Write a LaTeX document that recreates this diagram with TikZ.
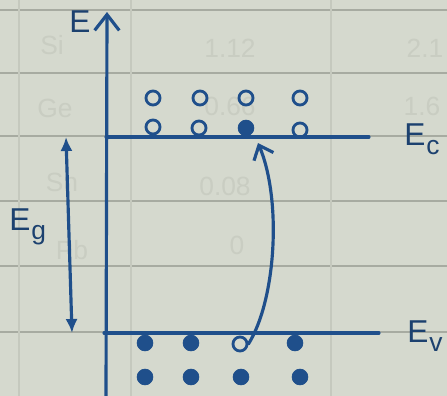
\documentclass[tikz,border=0pt]{standalone}
\usepackage{fontspec}
\setmainfont{Liberation Sans}
\usetikzlibrary{arrows.meta}

\definecolor{paper}{HTML}{D5D9CE}
\definecolor{ruleline}{HTML}{A7ABA1}
\definecolor{ghost}{HTML}{C9CDC2}
\definecolor{ink}{HTML}{1F4F8B}
\definecolor{darkink}{HTML}{1C416F}

\newcommand{\levellabel}[2]{#1\kern0.5pt\raisebox{-0.55ex}{\fontsize{15}{16}\selectfont #2}}

\tikzset{
  inkline/.style={ink, line width=1.8pt, line cap=round},
  handtext/.style={darkink, font=\fontsize{18}{21}\selectfont, inner sep=0pt},
  ghosttext/.style={ghost, font=\fontsize{15}{18}\selectfont, inner sep=0pt},
  electron/.style={circle, fill=ink, draw=ink, minimum size=9pt, inner sep=0pt},
  hole/.style={circle, draw=ink, line width=1.6pt, minimum size=8pt, inner sep=0pt},
}

\begin{document}
\begin{tikzpicture}[x=0.02cm, y=-0.02cm]
  % paper
  \fill[paper] (0,0) rectangle (447,396);
  \useasboundingbox (0,0) rectangle (447,396);
  \foreach \y in {10,73,136,201,266,332}
    \draw[ruleline, line width=0.8pt] (0,\y) -- (447,\y);
  \foreach \x in {19,131,331}
    \draw[ruleline!35!paper, line width=0.8pt] (\x,0) -- (\x,396);

  % table showing through the page
  \node[ghosttext] (g1) at (52,45) {Si};
  \node[ghosttext] (g2) at (230,48) {1.12};
  \node[ghosttext] (g3) at (425,48) {2.1};
  \node[ghosttext] (g4) at (55,108) {Ge};
  \node[ghosttext] (g5) at (230,106) {0.66};
  \node[ghosttext] (g6) at (422,106) {1.6};
  \node[ghosttext] (g7) at (62,182) {Sn};
  \node[ghosttext] (g8) at (225,186) {0.08};
  \node[ghosttext] (g9) at (72,250) {Pb};
  \node[ghosttext] (g10) at (237,245) {0};

  % energy axis
  \coordinate (axisbot) at (106,396);
  \coordinate (axistop) at (107,12);
  \draw[inkline, -{Straight Barb[length=9pt, width=14pt, line width=1.8pt]}] (axisbot) -- (axistop);
  \node[handtext] (elabel) at (80,22) {E};

  % band edges
  \coordinate (cbleft) at (106,137);
  \coordinate (cbright) at (369,137);
  \coordinate (vbleft) at (104,333);
  \coordinate (vbright) at (379,333);
  \draw[inkline] (cbleft) -- (cbright);
  \draw[inkline] (vbleft) -- (vbright);
  \node[handtext, anchor=west] (eclabel) at (404,139) {\levellabel{E}{c}};
  \node[handtext, anchor=west] (evlabel) at (407,336) {\levellabel{E}{v}};

  % gap
  \coordinate (gaptop) at (66,137);
  \coordinate (gapbot) at (72,333);
  \draw[inkline, {Latex[length=8pt, width=7pt]}-{Latex[length=8pt, width=7pt]}] (gaptop) -- (gapbot);
  \node[handtext, anchor=west] (eglabel) at (9,227) {\levellabel{E}{g}};

  % conduction band carriers
  \foreach \x [count=\i] in {153,200,246,300}
    \node[hole] (cu\i) at (\x,98) {};
  \node[hole] (cl1) at (153,127) {};
  \node[hole] (cl2) at (199,128) {};
  \node[electron] (cl3) at (246,128) {};
  \node[hole] (cl4) at (300,130) {};

  % valence band carriers
  \node[electron] (vu1) at (145,343) {};
  \node[electron] (vu2) at (191,343) {};
  \node[hole] (vu3) at (240,344) {};
  \node[electron] (vu4) at (295,343) {};
  \foreach \x [count=\i] in {145,191,241,300}
    \node[electron] (vl\i) at (\x,377) {};

  % excitation across the gap
  \coordinate (jumpend) at (258,143);
  \draw[inkline, -{Straight Barb[length=7pt, width=12pt, line width=1.8pt]}]
    (vu3.east) .. controls (276,300) and (282,200) .. (jumpend);
\end{tikzpicture}
\end{document}
